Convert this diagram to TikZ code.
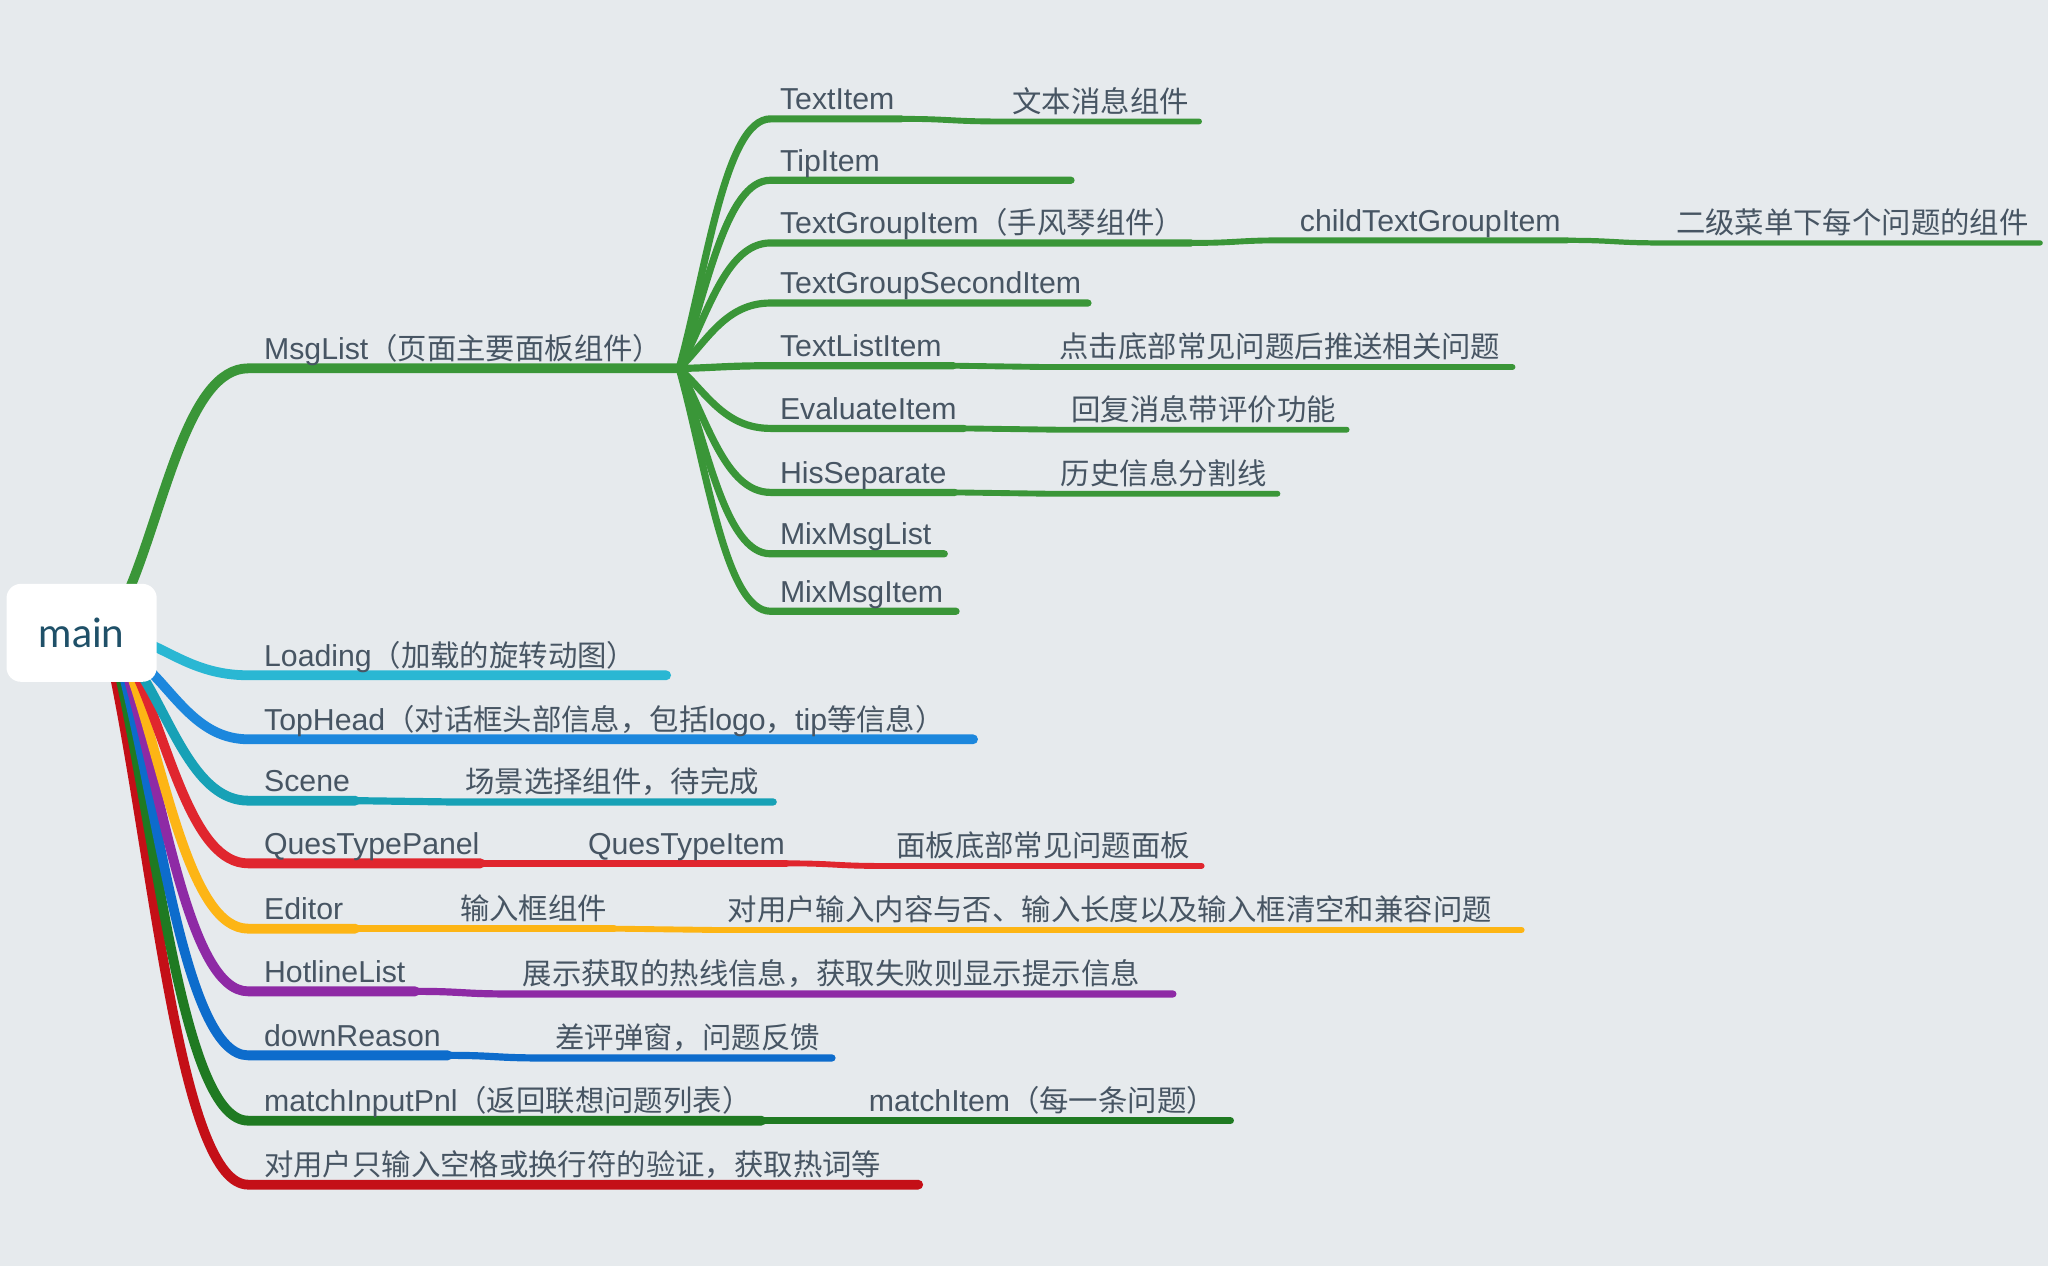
\documentclass[tikz,border=0pt]{standalone}
\usepackage{fontspec}
\setmainfont{Liberation Sans}[Scale=1.03]
\newfontfamily\cjk{Noto Sans CJK SC}
\newfontfamily\rootfont{Lato}
\newcommand\lblfont{\fontsize{22.5}{27}\selectfont}

\definecolor{bg}{HTML}{E6EAED}
\definecolor{ink}{HTML}{475563}
\definecolor{rootink}{HTML}{1F5068}
\definecolor{cMsg}{HTML}{3A9638}
\definecolor{cLoad}{HTML}{2AB7D3}
\definecolor{cTop}{HTML}{1C87DD}
\definecolor{cScene}{HTML}{17A1B6}
\definecolor{cQues}{HTML}{E0262E}
\definecolor{cEdit}{HTML}{FDB515}
\definecolor{cHot}{HTML}{8E2AA5}
\definecolor{cDown}{HTML}{0D6CCC}
\definecolor{cMatch}{HTML}{1F7A22}
\definecolor{cCheck}{HTML}{C40F17}

\begin{document}
\begin{tikzpicture}[x=1pt,y=-1pt,
  lbl/.style={anchor=base west, inner sep=0pt, text=ink, font=\lblfont},
  br/.style={line cap=round, line join=round},
  w1/.style={br, line width=7.5pt},
  w2/.style={br, line width=5.5pt},
  w3/.style={br, line width=4.5pt},
  w4/.style={br, line width=4pt},
  rootbox/.style={fill=white, rounded corners=11pt, minimum width=115pt,
    minimum height=75pt, inner sep=0pt, text=rootink,
    font=\rootfont\fontsize{31}{36}\selectfont}]

\useasboundingbox (0,0) rectangle (1568,969);
\fill[bg] (0,0) rectangle (1568,969);

% ---- junction points -------------------------------------------------
\coordinate (r-msg)   at (100,449);
\coordinate (r-load)  at (114,493);
\coordinate (r-top)   at (113,512);
\coordinate (r-scene) at (108,516);
\coordinate (r-ques)  at (105,517);
\coordinate (r-edit)  at (101,518);
\coordinate (r-hot)   at (98,518);
\coordinate (r-down)  at (95,518);
\coordinate (r-match) at (92,518);
\coordinate (r-check) at (88,518);

\coordinate (msg-in) at (190,282);  \coordinate (msg-out) at (520,282);
\coordinate (ti-in) at (590,91);    \coordinate (ti-out) at (690,91);
\coordinate (tic-in) at (765,93);   \coordinate (tic-out) at (918,93);
\coordinate (tip-in) at (590,138);  \coordinate (tip-out) at (820,138);
\coordinate (tg-in) at (590,186);   \coordinate (tg-out) at (912,186);
\coordinate (tgc-in) at (983,184);  \coordinate (tgc-out) at (1200,184);
\coordinate (tgd-in) at (1272,186); \coordinate (tgd-out) at (1562,186);
\coordinate (tgs-in) at (590,232);  \coordinate (tgs-out) at (833,232);
\coordinate (tl-in) at (590,280);   \coordinate (tl-out) at (730,280);
\coordinate (tlc-in) at (800,281);  \coordinate (tlc-out) at (1158,281);
\coordinate (ev-in) at (590,328);   \coordinate (ev-out) at (738,328);
\coordinate (evc-in) at (810,329);  \coordinate (evc-out) at (1031,329);
\coordinate (his-in) at (590,377);  \coordinate (his-out) at (731,377);
\coordinate (hisc-in) at (802,378); \coordinate (hisc-out) at (978,378);
\coordinate (mml-in) at (590,424);  \coordinate (mml-out) at (723,424);
\coordinate (mmi-in) at (590,468);  \coordinate (mmi-out) at (732,468);

\coordinate (load-in) at (190,517);   \coordinate (load-out) at (510,517);
\coordinate (top-in) at (190,566);    \coordinate (top-out) at (745,566);
\coordinate (scene-in) at (190,613);  \coordinate (scene-out) at (272,613);
\coordinate (scenec-in) at (345,614); \coordinate (scenec-out) at (592,614);
\coordinate (ques-in) at (190,661);   \coordinate (ques-out) at (368,661);
\coordinate (quesc-in) at (440,661);  \coordinate (quesc-out) at (602,661);
\coordinate (quesd-in) at (676,663);  \coordinate (quesd-out) at (920,663);
\coordinate (edit-in) at (190,711);   \coordinate (edit-out) at (272,711);
\coordinate (editc-in) at (342,711);  \coordinate (editc-out) at (470,711);
\coordinate (editd-in) at (547,712);  \coordinate (editd-out) at (1165,712);
\coordinate (hot-in) at (190,759);    \coordinate (hot-out) at (318,759);
\coordinate (hotc-in) at (390,761);   \coordinate (hotc-out) at (898,761);
\coordinate (down-in) at (190,808);   \coordinate (down-out) at (343,808);
\coordinate (downc-in) at (415,810);  \coordinate (downc-out) at (637,810);
\coordinate (match-in) at (190,858);  \coordinate (match-out) at (583,858);
\coordinate (matchc-in) at (655,858); \coordinate (matchc-out) at (942,858);
\coordinate (check-in) at (190,907);  \coordinate (check-out) at (703,907);

% ---- MsgList branch ---------------------------------------------------
\draw[w1,cMsg] (r-msg) .. controls +(27,-66) and +(-45,0) .. (msg-in) -- (msg-out);
\draw[w2,cMsg] (msg-out) .. controls +(21,-76) and +(-35,0) .. (ti-in) -- (ti-out);
\draw[w3,cMsg] (ti-out) .. controls +(37,0) and +(-37,0) .. (tic-in) -- (tic-out);
\draw[w2,cMsg] (msg-out) .. controls +(21,-57) and +(-35,0) .. (tip-in) -- (tip-out);
\draw[w2,cMsg] (msg-out) .. controls +(21,-38) and +(-35,0) .. (tg-in) -- (tg-out);
\draw[w3,cMsg] (tg-out) .. controls +(36,0) and +(-36,0) .. (tgc-in) -- (tgc-out);
\draw[w4,cMsg] (tgc-out) .. controls +(36,0) and +(-36,0) .. (tgd-in) -- (tgd-out);
\draw[w2,cMsg] (msg-out) .. controls +(21,-20) and +(-35,0) .. (tgs-in) -- (tgs-out);
\draw[w2,cMsg] (msg-out) .. controls +(21,0) and +(-35,0) .. (tl-in) -- (tl-out);
\draw[w3,cMsg] (tl-out) .. controls +(35,0) and +(-35,0) .. (tlc-in) -- (tlc-out);
\draw[w2,cMsg] (msg-out) .. controls +(21,19) and +(-35,0) .. (ev-in) -- (ev-out);
\draw[w3,cMsg] (ev-out) .. controls +(36,0) and +(-36,0) .. (evc-in) -- (evc-out);
\draw[w2,cMsg] (msg-out) .. controls +(21,38) and +(-35,0) .. (his-in) -- (his-out);
\draw[w3,cMsg] (his-out) .. controls +(36,0) and +(-36,0) .. (hisc-in) -- (hisc-out);
\draw[w2,cMsg] (msg-out) .. controls +(21,57) and +(-35,0) .. (mml-in) -- (mml-out);
\draw[w2,cMsg] (msg-out) .. controls +(21,75) and +(-35,0) .. (mmi-in) -- (mmi-out);

% ---- remaining branches ----------------------------------------------
\draw[w1,cCheck] (r-check) .. controls +(31,154) and +(-51,0) .. (check-in) -- (check-out);
\draw[w1,cMatch] (r-match) .. controls +(29,134) and +(-49,0) .. (match-in) -- (match-out);
\draw[w2,cMatch] (match-out) .. controls +(36,0) and +(-36,0) .. (matchc-in) -- (matchc-out);
\draw[w1,cDown] (r-down) .. controls +(28,114) and +(-47,0) .. (down-in) -- (down-out);
\draw[w2,cDown] (down-out) .. controls +(36,0) and +(-36,0) .. (downc-in) -- (downc-out);
\draw[w1,cHot] (r-hot) .. controls +(27,95) and +(-45,0) .. (hot-in) -- (hot-out);
\draw[w2,cHot] (hot-out) .. controls +(36,0) and +(-36,0) .. (hotc-in) -- (hotc-out);
\draw[w1,cEdit] (r-edit) .. controls +(26,76) and +(-44,0) .. (edit-in) -- (edit-out);
\draw[w2,cEdit] (edit-out) .. controls +(35,0) and +(-35,0) .. (editc-in) -- (editc-out);
\draw[w3,cEdit] (editc-out) .. controls +(38,0) and +(-38,0) .. (editd-in) -- (editd-out);
\draw[w1,cQues] (r-ques) .. controls +(25,56) and +(-42,0) .. (ques-in) -- (ques-out);
\draw[w2,cQues] (ques-out) .. controls +(36,0) and +(-36,0) .. (quesc-in) -- (quesc-out);
\draw[w3,cQues] (quesc-out) .. controls +(37,0) and +(-37,0) .. (quesd-in) -- (quesd-out);
\draw[w1,cScene] (r-scene) .. controls +(24,38) and +(-40,0) .. (scene-in) -- (scene-out);
\draw[w2,cScene] (scene-out) .. controls +(36,0) and +(-36,0) .. (scenec-in) -- (scenec-out);
\draw[w1,cTop] (r-top) .. controls +(22,21) and +(-37,0) .. (top-in) -- (top-out);
\draw[w1,cLoad] (r-load) .. controls +(21,9) and +(-35,0) .. (load-in) -- (load-out);

% ---- central topic ---------------------------------------------------
\node[rootbox] (root) at (62.5,484.5) {main};

% ---- labels ----------------------------------------------------------
\node[lbl] (msg) at (202,275) {MsgList{\cjk （页面主要面板组件）}};
\node[lbl] (ti) at (597,84) {TextItem};
\node[lbl] (tic) at (775,86) {\cjk 文本消息组件};
\node[lbl] (tip) at (597,131) {TipItem};
\node[lbl] (tg) at (597,179) {TextGroupItem{\cjk （手风琴组件）}};
\node[lbl] (tgc) at (995,177) {childTextGroupItem};
\node[lbl] (tgd) at (1283,179) {\cjk 二级菜单下每个问题的组件};
\node[lbl] (tgs) at (597,225) {TextGroupSecondItem};
\node[lbl] (tl) at (597,273) {TextListItem};
\node[lbl] (tlc) at (811,274) {\cjk 点击底部常见问题后推送相关问题};
\node[lbl] (ev) at (597,321) {EvaluateItem};
\node[lbl] (evc) at (820,322) {\cjk 回复消息带评价功能};
\node[lbl] (his) at (597,370) {HisSeparate};
\node[lbl] (hisc) at (812,371) {\cjk 历史信息分割线};
\node[lbl] (mml) at (597,417) {MixMsgList};
\node[lbl] (mmi) at (597,461) {MixMsgItem};

\node[lbl] (load) at (202,510) {Loading{\cjk （加载的旋转动图）}};
\node[lbl] (top) at (202,559) {TopHead{\cjk （对话框头部信息，包括}logo{\cjk ，}tip{\cjk 等信息）}};
\node[lbl] (scene) at (202,606) {Scene};
\node[lbl] (scenec) at (356,607) {\cjk 场景选择组件，待完成};
\node[lbl] (ques) at (202,654) {QuesTypePanel};
\node[lbl] (quesc) at (450,654) {QuesTypeItem};
\node[lbl] (quesd) at (686,656) {\cjk 面板底部常见问题面板};
\node[lbl] (edit) at (202,704) {Editor};
\node[lbl] (editc) at (352,704) {\cjk 输入框组件};
\node[lbl] (editd) at (557,705) {\cjk 对用户输入内容与否、输入长度以及输入框清空和兼容问题};
\node[lbl] (hot) at (202,752) {HotlineList};
\node[lbl] (hotc) at (400,754) {\cjk 展示获取的热线信息，获取失败则显示提示信息};
\node[lbl] (down) at (202,801) {downReason};
\node[lbl] (downc) at (425,803) {\cjk 差评弹窗，问题反馈};
\node[lbl] (match) at (202,851) {matchInputPnl{\cjk （返回联想问题列表）}};
\node[lbl] (matchc) at (665,851) {matchItem{\cjk （每一条问题）}};
\node[lbl] (check) at (202,900) {\cjk 对用户只输入空格或换行符的验证，获取热词等};
\end{tikzpicture}
\end{document}
